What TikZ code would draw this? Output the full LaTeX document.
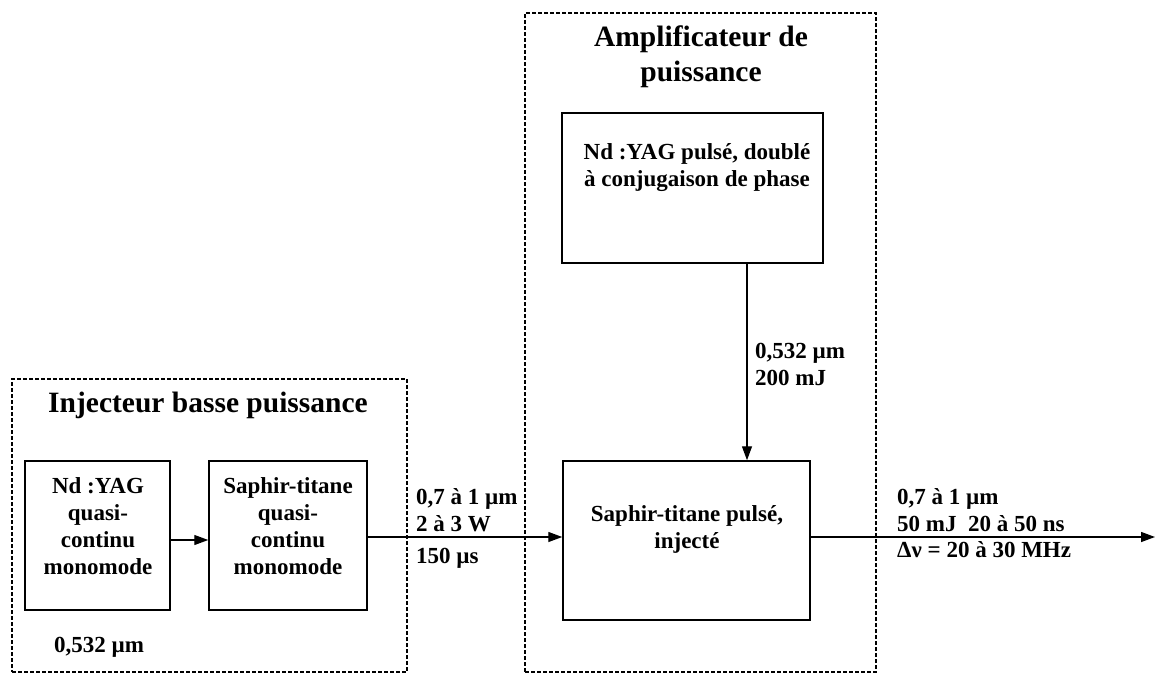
\documentclass[tikz,border=0pt]{standalone}
\usepackage{fontspec}
\setmainfont{Liberation Serif}
\usetikzlibrary{arrows.meta}
\begin{document}
\begin{tikzpicture}[x=1pt,y=-1pt,
  every node/.style={font=\bfseries\fontsize{23}{27}\selectfont, inner sep=0pt},
  group/.style={draw, line width=1.4pt, dash pattern=on 4pt off 2pt},
  unit/.style={draw, line width=1.5pt},
  titletext/.style={font=\bfseries\fontsize{29.5}{35}\selectfont, align=center},
  boxtext/.style={align=center},
  note/.style={align=left, anchor=west},
  flow/.style={line width=1.3pt, -{Triangle[length=14pt,width=10pt]}}]
\useasboundingbox (0,0) rectangle (1157,674);

% dashed groups
\node[group, minimum width=395pt, minimum height=293pt] (inj) at (209.5,525.5) {};
\node[group, minimum width=351pt, minimum height=659pt] (amp) at (700.5,342.5) {};
\node[titletext] (injtitle) at (208,405) {Injecteur basse puissance};
\node[titletext] (amptitle) at (701,57) {Amplificateur de\\puissance};

% laser units
\node[unit, minimum width=145pt, minimum height=149pt] (yag) at (97.5,535.5) {};
\node[unit, minimum width=158pt, minimum height=149pt] (ti) at (288,535.5) {};
\node[unit, minimum width=247pt, minimum height=159pt] (amptis) at (686.5,540.5) {};
\node[unit, minimum width=261pt, minimum height=150pt] (pump) at (692.5,188) {};

\node[boxtext] (yagtext) at (98,526) {Nd :YAG\\quasi-\\continu\\monomode};
\node[boxtext] (titext) at (288,526) {Saphir-titane\\quasi-\\continu\\monomode};
\node[boxtext] (amptistext) at (687,529) {Saphir-titane pulsé,\\injecté};
\node[boxtext] (pumptext) at (697,168) {Nd :YAG pulsé, doublé\\à conjugaison de phase};

% beams
\coordinate (ya) at (0,540);
\coordinate (yb) at (0,537);
\coordinate (vx) at (747,0);
\coordinate (out) at (1155,537);
\draw[flow] (yag.east |- ya) -- (ti.west |- ya);
\draw[flow] (ti.east |- yb) -- (amptis.west |- yb);
\draw[flow] (pump.south -| vx) -- (amptis.north -| vx);
\draw[flow] (amptis.east |- out) -- (out);

% beam parameters
\node[note] (lyag) at (54,647) {0,532 µm};
\node[note] (lmid) at (416,510) {0,7 à 1 µm\\2 à 3 W};
\node[note] (lmid2) at (416,558) {150 µs};
\node[note] (lpump) at (755,364) {0,532 µm\\200 mJ};
\node[note] (lout) at (897,510) {0,7 à 1 µm\\50 mJ\ \ 20 à 50 ns};
\node[note] (lout2) at (897,550) {Δν = 20 à 30 MHz};
\end{tikzpicture}
\end{document}
